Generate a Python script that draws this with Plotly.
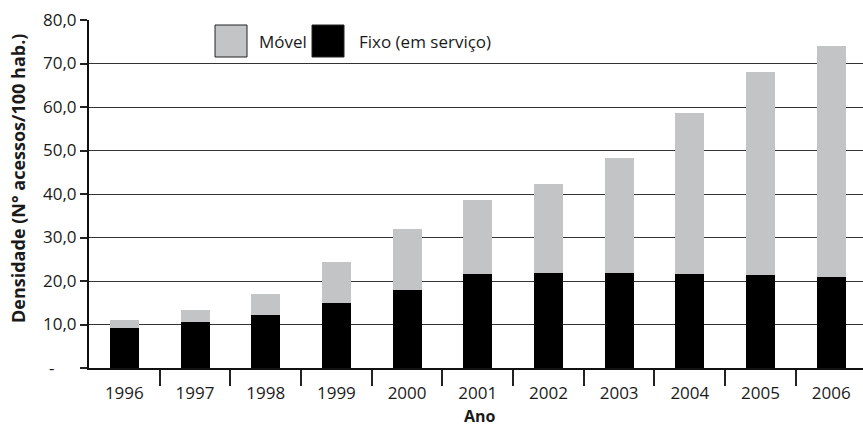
import plotly.graph_objects as go

# Densidade de telefonia no Brasil (acessos por 100 habitantes)
anos = ["1996", "1997", "1998", "1999", "2000", "2001", "2002", "2003", "2004", "2005", "2006"]
fixo = [9.2, 10.6, 12.1, 15.0, 17.9, 21.6, 21.8, 21.8, 21.6, 21.4, 20.9]
movel = [1.8, 2.7, 4.9, 9.3, 14.1, 17.0, 20.5, 26.5, 37.0, 46.7, 53.2]

y_ticks = [0, 10, 20, 30, 40, 50, 60, 70, 80]
y_labels = ["-\u00a0\u00a0\u00a0\u00a0\u00a0", "10,0", "20,0", "30,0", "40,0", "50,0", "60,0", "70,0", "80,0"]

COR_MOVEL = "#c3c4c6"
COR_FIXO = "#000000"
FONTE = "Open Sans"
TEXTO = "#1a1a1a"

W, H = 863, 427
M_L, M_R, M_T, M_B = 89, 0, 20, 59
PW, PH = W - M_L - M_R, H - M_T - M_B

def px_x(x):
    return (x - M_L) / PW

def px_y(y):
    return (H - M_B - y) / PH

pos = list(range(len(anos)))

fig = go.Figure()
fig.add_trace(go.Bar(x=pos, y=fixo, name="Fixo (em serviço)",
                     marker=dict(color=COR_FIXO, line=dict(width=0))))
fig.add_trace(go.Bar(x=pos, y=movel, name="Móvel",
                     marker=dict(color=COR_MOVEL, line=dict(width=0))))

fig.update_layout(
    barmode="stack",
    bargap=0.59,
    width=W, height=H,
    margin=dict(l=M_L, r=M_R, t=M_T, b=M_B, pad=0),
    paper_bgcolor="white", plot_bgcolor="white",
    showlegend=False,
    font=dict(family=FONTE, size=17, color=TEXTO),
)

fig.update_xaxes(
    range=[-0.5, len(anos) - 0.55],
    tickmode="array", tickvals=pos, ticktext=anos,
    ticks="outside", ticklen=9, tickcolor="rgba(0,0,0,0)",
    minor=dict(tickmode="array", tickvals=[p + 0.5 for p in pos],
               ticks="outside", ticklen=16, tickwidth=1.5, tickcolor="#222"),
    showgrid=False, zeroline=False,
    showline=True, linecolor="#111", linewidth=2,
    tickfont=dict(family=FONTE, size=17, color=TEXTO),
)

fig.update_yaxes(
    range=[0, 80],
    tickmode="array", tickvals=y_ticks, ticktext=y_labels,
    ticks="outside", ticklen=7, tickwidth=1.5, tickcolor="#222",
    showgrid=True, gridcolor="#333", gridwidth=1.3,
    zeroline=False,
    showline=True, linecolor="#111", linewidth=2,
    tickfont=dict(family=FONTE, size=17, color=TEXTO),
)

# títulos dos eixos
fig.add_annotation(
    text="<b>Ano</b>",
    xref="paper", yref="paper", x=px_x(480), y=px_y(416),
    xanchor="center", yanchor="middle", showarrow=False, borderpad=0,
    font=dict(family=FONTE, size=16, color=TEXTO),
)
fig.add_annotation(
    text="<b>Densidade (N° acessos/100 hab.)</b>",
    xref="paper", yref="paper", x=px_x(18), y=px_y(179),
    xanchor="center", yanchor="middle", textangle=-90, showarrow=False,
    font=dict(family=FONTE, size=18, color=TEXTO),
)

# legenda com quadrados grandes
leg = [
    (COR_MOVEL, "Móvel", 215, 257),
    (COR_FIXO, "Fixo (em serviço)", 312, 357),
]
for cor, nome, x0, xt in leg:
    fig.add_shape(type="rect", xref="paper", yref="paper",
                  x0=px_x(x0), x1=px_x(x0 + 32), y0=px_y(57), y1=px_y(25),
                  fillcolor=cor, line=dict(color="#222", width=1))
    fig.add_annotation(text=nome, xref="paper", yref="paper",
                       x=px_x(xt), y=px_y(42), xanchor="left", yanchor="middle",
                       showarrow=False, font=dict(family=FONTE, size=17, color=TEXTO))

fig.write_html("out.html")
